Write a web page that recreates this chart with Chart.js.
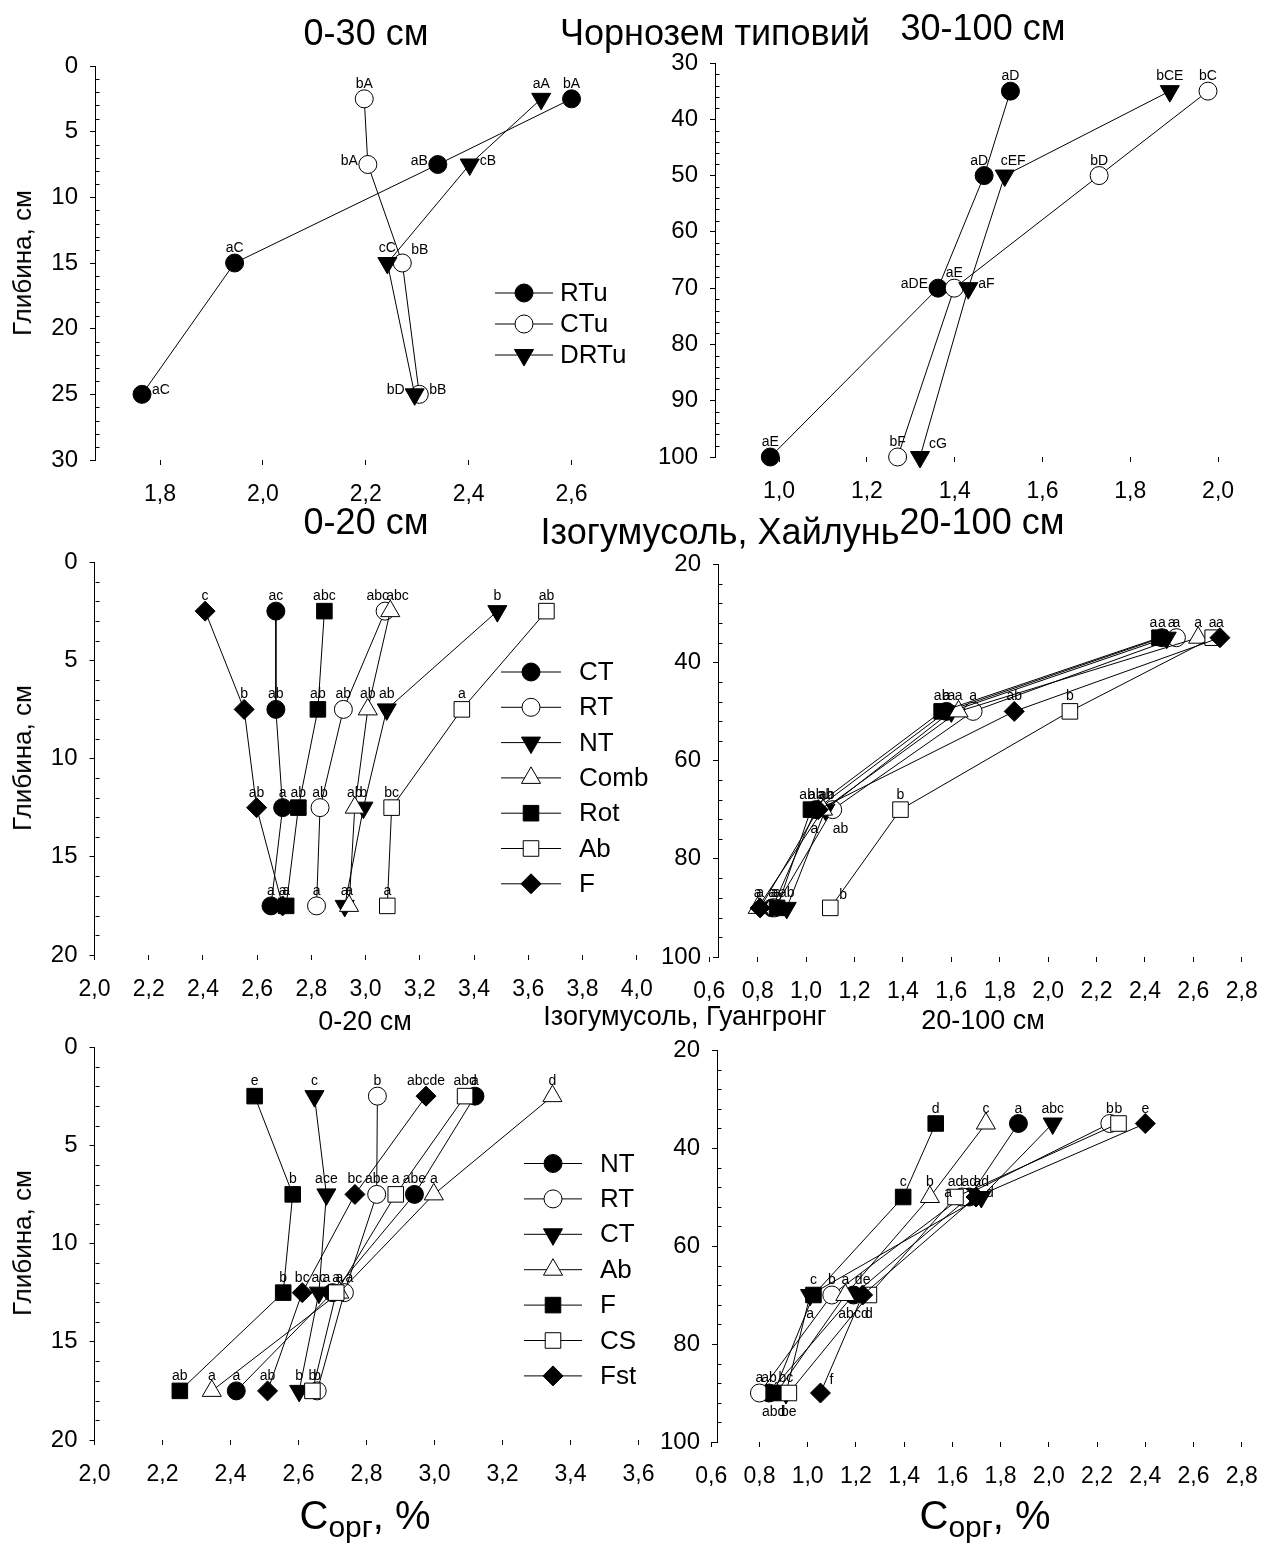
<!DOCTYPE html>
<html>
<head>
<meta charset="utf-8">
<script src="https://cdn.jsdelivr.net/npm/chart.js@4.4.0/dist/chart.umd.min.js"></script>
<style>
body { margin: 0; background: #fff; width: 1274px; height: 1544px; position: relative; overflow: hidden;
       font-family: "Liberation Sans", Arial, sans-serif; color: #000; }
canvas { position: absolute; }
.t { position: absolute; transform: translate(-50%, -50%); white-space: nowrap; line-height: 1; }
.yl { position: absolute; transform: translate(-50%, -50%) rotate(-90deg); white-space: nowrap; font-size: 26px; line-height: 1; }
</style>
</head>
<body>
<canvas id="p1"></canvas>
<canvas id="p2"></canvas>
<canvas id="p3"></canvas>
<canvas id="p4"></canvas>
<canvas id="p5"></canvas>
<canvas id="p6"></canvas>

<div class="t" style="left:366px;top:33px;font-size:36px">0-30 см</div>
<div class="t" style="left:715px;top:33px;font-size:36px">Чорнозем типовий</div>
<div class="t" style="left:983px;top:28px;font-size:36px">30-100 см</div>
<div class="t" style="left:366px;top:522px;font-size:36px">0-20 см</div>
<div class="t" style="left:720px;top:532px;font-size:36px">Ізогумусоль, Хайлунь</div>
<div class="t" style="left:982px;top:522px;font-size:36px">20-100 см</div>
<div class="t" style="left:365px;top:1021px;font-size:27px">0-20 см</div>
<div class="t" style="left:685px;top:1016px;font-size:27px">Ізогумусоль, Гуангронг</div>
<div class="t" style="left:983px;top:1020px;font-size:27px">20-100 см</div>

<div class="yl" style="left:22px;top:263px">Глибина, см</div>
<div class="yl" style="left:22px;top:758px">Глибина, см</div>
<div class="yl" style="left:22px;top:1243px">Глибина, см</div>

<div class="t" style="left:365px;top:1515px"><span style="font-size:40px">С</span><span style="font-size:30px;position:relative;top:8px">орг</span><span style="font-size:40px">, %</span></div>
<div class="t" style="left:985px;top:1515px"><span style="font-size:40px">С</span><span style="font-size:30px;position:relative;top:8px">орг</span><span style="font-size:40px">, %</span></div>

<script>
// --- Чорнозем типовий ---
const depthTop = [2.5, 7.5, 15, 25];
const chRTu = [2.60, 2.34, 1.945, 1.765];
const chCTu = [2.197, 2.204, 2.271, 2.304];
const chDRTu = [2.541, 2.402, 2.242, 2.295];
const chRTuL = ['bA', 'aB', 'aC', 'aC'];
const chCTuL = ['bA', 'bA', 'bB', 'bB'];
const chDRTuL = ['aA', 'cB', 'cC', 'bD'];

const depthSub = [35, 50, 70, 100];
const chRTu2 = [1.527, 1.467, 1.362, 0.98];
const chCTu2 = [1.977, 1.729, 1.399, 1.27];
const chDRTu2 = [1.890, 1.514, 1.431, 1.321];
const chRTu2L = ['aD', 'aD', 'aDE', 'aE'];
const chCTu2L = ['bC', 'bD', 'aE', 'bF'];
const chDRTu2L = ['bCE', 'cEF', 'aF', 'cG'];

// --- Ізогумусоль, Хайлунь ---
const depth20 = [2.5, 7.5, 12.5, 17.5];
const hlCT = [2.669, 2.669, 2.694, 2.651];
const hlRT = [3.072, 2.918, 2.832, 2.819];
const hlNT = [3.486, 3.078, 2.992, 2.923];
const hlComb = [3.091, 3.008, 2.960, 2.939];
const hlRot = [2.848, 2.824, 2.752, 2.707];
const hlAb = [3.667, 3.355, 3.096, 3.080];
const hlF = [2.408, 2.552, 2.598, 2.694];
const hlCTL = ['ac', 'ab', 'a', 'a'];
const hlRTL = ['abc', 'ab', 'ab', 'a'];
const hlNTL = ['b', 'ab', 'b', 'a'];
const hlCombL = ['abc', 'ab', 'ab', 'a'];
const hlRotL = ['abc', 'ab', 'ab', 'a'];
const hlAbL = ['ab', 'a', 'bc', 'a'];
const hlFL = ['c', 'b', 'ab', 'a'];

const depth100 = [35, 50, 70, 90];
const hdCT = [2.47, 1.58, 1.04, 0.86];
const hdRT = [2.53, 1.69, 1.11, 0.87];
const hdNT = [2.49, 1.60, 1.08, 0.92];
const hdComb = [2.62, 1.63, 1.07, 0.80];
const hdRot = [2.46, 1.56, 1.02, 0.88];
const hdAb = [2.68, 2.09, 1.39, 1.10];
const hdF = [2.71, 1.86, 1.05, 0.81];
const hdCTL = ['a', 'a', 'ab', 'a'];
const hdRTL = ['a', 'a', 'ab', 'a'];
const hdNTL = ['a', 'a', 'ab', 'ab'];
const hdCombL = ['a', 'a', 'ab', 'a'];
const hdRotL = ['a', 'ab', 'ab', 'a'];
const hdAbL = ['a', 'b', 'b', 'b'];
const hdFL = ['a', 'ab', 'a', 'a'];

// --- Ізогумусоль, Гуангронг ---
const gtNT = [3.119, 2.941, 2.700, 2.417];
const gtRT = [2.832, 2.830, 2.735, 2.655];
const gtCT = [2.647, 2.682, 2.660, 2.602];
const gtAb = [3.347, 2.998, 2.720, 2.345];
const gtF = [2.471, 2.583, 2.555, 2.251];
const gtCS = [3.090, 2.886, 2.711, 2.641];
const gtFst = [2.975, 2.766, 2.611, 2.509];
const gtNTL = ['a', 'abe', 'a', 'a'];
const gtRTL = ['b', 'abe', 'a', 'b'];
const gtCTL = ['c', 'ace', 'ac', 'b'];
const gtAbL = ['d', 'a', 'a', 'a'];
const gtFL = ['e', 'b', 'b', 'ab'];
const gtCSL = ['abd', 'a', 'a', 'b'];
const gtFstL = ['abcde', 'bc', 'bc', 'ab'];

const gdNT = [1.874, 1.67, 1.19, 0.84];
const gdRT = [2.253, 1.64, 1.10, 0.80];
const gdCT = [2.016, 1.72, 1.01, 0.91];
const gdAb = [1.739, 1.507, 1.156, 0.87];
const gdF = [1.531, 1.396, 1.024, 0.859];
const gdCS = [2.289, 1.613, 1.254, 0.922];
const gdFst = [2.40, 1.698, 1.228, 1.053];
const gdNTL = ['a', 'ad', 'abcd', 'ab'];
const gdRTL = ['b', 'a', 'b', 'a'];
const gdCTL = ['abc', 'ad', 'a', 'bc'];
const gdAbL = ['c', 'b', 'a', ''];
const gdFL = ['d', 'c', 'c', 'abd'];
const gdCSL = ['b', 'ad', 'd', 'be'];
const gdFstL = ['e', 'd', 'de', 'f'];

// tick values
const xt1 = [1.8, 2.0, 2.2, 2.4, 2.6];
const yt1 = [0, 5, 10, 15, 20, 25, 30];
const xt2 = [1.0, 1.2, 1.4, 1.6, 1.8, 2.0];
const yt2 = [30, 40, 50, 60, 70, 80, 90, 100];
const xt3 = [2.0, 2.2, 2.4, 2.6, 2.8, 3.0, 3.2, 3.4, 3.6, 3.8, 4.0];
const yt3 = [0, 5, 10, 15, 20];
const xt4 = [0.6, 0.8, 1.0, 1.2, 1.4, 1.6, 1.8, 2.0, 2.2, 2.4, 2.6, 2.8];
const yt4 = [20, 40, 60, 80, 100];
const xt5 = [2.0, 2.2, 2.4, 2.6, 2.8, 3.0, 3.2, 3.4, 3.6];

// label placement (which side of the marker)
const P = (s) => s.split(' ');
const place = {
  chRTu: P('t l t r'), chCTu: P('t l ur r'), chDRTu: P('t r t l'),
  chRTu2: P('t tl l t'), chCTu2: P('t t t t'), chDRTu2: P('t tr r ur'),
  hlRT: P('tl t t t'), hlComb: P('tr t t t'),
  hdRT: P('t t br t'), hdComb: P('t t tr t'), hdRot: P('t- t tl t'), hdAb: P('t t t ur'), hdF: P('t t bl t'),
  hdNT: P('t+ t t t'),
  gtF: P('t tl t t'), gtNT: P('t t t- t'), gtRT: P('t t t+ t'),
  gdNT: P('t t b t'), gdRT: P('t l t t'), gdCT: P('t t b t'), gdF: P('t t t b'),
  gdCS: P('t t b b'), gdFst: P('t r t ur')
};

const FONT = '"Liberation Sans", Arial, sans-serif';
const XH = 45;
const TOPPAD = 32;
const BOTPAD = 20;

const MARK = {
  fillCircle: { style: 'circle', r: 9, fill: true },
  openCircle: { style: 'circle', r: 9, fill: false },
  triDown: { style: 'triangle', r: 11, rot: 180, fill: true },
  openTri: { style: 'triangle', r: 11, rot: 0, fill: false },
  fillSquare: { style: 'rect', r: 11, fill: true },
  openSquare: { style: 'rect', r: 11, fill: false },
  diamond: { style: 'rectRot', r: 10, fill: true }
};

const PLACE = {
  t: ['center', 0, -11], 't-': ['center', -6, -11], 't+': ['center', 5, -11],
  tl: ['right', 4, -11], tr: ['left', -4, -11],
  l: ['right', -10, 0], r: ['left', 10, 0], ur: ['left', 9, -9], ul: ['right', -9, -9],
  b: ['center', 0, 23], bl: ['right', 0, 23], br: ['left', 0, 23]
};

function drawMarker(ctx, m, x, y) {
  ctx.beginPath();
  const r = m.r;
  if (m.style === 'circle') {
    ctx.arc(x, y, r, 0, Math.PI * 2);
  } else if (m.style === 'rect') {
    const s = r * Math.SQRT1_2;
    ctx.rect(x - s, y - s, 2 * s, 2 * s);
  } else if (m.style === 'rectRot') {
    ctx.moveTo(x, y - r); ctx.lineTo(x + r, y); ctx.lineTo(x, y + r); ctx.lineTo(x - r, y);
    ctx.closePath();
  } else {
    let a = (m.rot || 0) * Math.PI / 180;
    ctx.moveTo(x + Math.sin(a) * r, y - Math.cos(a) * r);
    for (let k = 0; k < 2; k++) {
      a += 2 * Math.PI / 3;
      ctx.lineTo(x + Math.sin(a) * r, y - Math.cos(a) * r);
    }
    ctx.closePath();
  }
  ctx.fillStyle = m.fill ? '#000' : '#fff';
  ctx.fill();
  ctx.strokeStyle = '#000';
  ctx.lineWidth = 1;
  ctx.stroke();
}

const pointLabels = {
  id: 'pointLabels',
  afterDatasetsDraw(chart) {
    const ctx = chart.ctx;
    ctx.save();
    ctx.font = '14px ' + FONT;
    ctx.fillStyle = '#000';
    ctx.textBaseline = 'alphabetic';
    chart.data.datasets.forEach((ds, di) => {
      chart.getDatasetMeta(di).data.forEach((pt, i) => {
        const txt = ds.ptLabels[i];
        if (!txt) return;
        const p = PLACE[ds.ptPlace ? ds.ptPlace[i] : 't'];
        ctx.textAlign = p[0];
        ctx.fillText(txt, pt.x + p[1], pt.y + p[2]);
      });
    });
    ctx.restore();
  }
};

const panelExtras = {
  id: 'panelExtras',
  afterDraw(chart, args, opts) {
    const ctx = chart.ctx;
    const ys = chart.scales.y;
    const x0 = Math.round(chart.chartArea.left) + 0.5;
    ctx.save();
    ctx.strokeStyle = '#000';
    ctx.lineWidth = 1;
    ctx.beginPath();
    opts.minor.forEach(v => {
      const py = Math.round(ys.getPixelForValue(v)) + 0.5;
      ctx.moveTo(x0, py);
      ctx.lineTo(x0 + 4, py);
    });
    ctx.stroke();

    const lg = opts.legend;
    if (lg) {
      ctx.font = '26px ' + FONT;
      ctx.textAlign = 'left';
      ctx.textBaseline = 'middle';
      lg.items.forEach((it, i) => {
        const x = lg.x - opts.box.x;
        const y = lg.y0 + i * lg.dy - opts.box.y;
        ctx.beginPath();
        ctx.moveTo(x - lg.half, y);
        ctx.lineTo(x + lg.half, y);
        ctx.strokeStyle = '#000';
        ctx.stroke();
        drawMarker(ctx, MARK[it.mark], x, y);
        ctx.fillStyle = '#000';
        ctx.fillText(it.name, lg.textX - opts.box.x, y + 1);
      });
    }
    ctx.restore();
  }
};

function minorTicks(lo, hi, step, major) {
  const out = [];
  for (let v = lo + step; v < hi; v += step) {
    if (Math.abs(v / major - Math.round(v / major)) > 1e-6) out.push(v);
  }
  return out;
}

function fmtX(v) { return v.toFixed(1).replace('.', ','); }

function makePanel(id, cx, cw, area, xr, xt, yr, yt, minor, series, legend) {
  const box = { x: cx, w: cw, y: area.t - TOPPAD, h: area.b - area.t + TOPPAD + XH + BOTPAD };
  const canvas = document.getElementById(id);
  canvas.width = box.w;
  canvas.height = Math.round(box.h);
  canvas.style.left = box.x + 'px';
  canvas.style.top = box.y + 'px';
  const right = area.l + (xr[1] - xr[0]) * xr[2];
  const yW = area.l - box.x;

  const datasets = series.map((s, i) => {
    const m = MARK[s.mark];
    return {
      label: s.name,
      data: s.xs.map((v, k) => ({ x: v, y: s.ys[k] })),
      showLine: true, borderColor: '#000', borderWidth: 1, tension: 0, fill: false, clip: false,
      pointStyle: m.style, pointRadius: m.r, pointHoverRadius: m.r, pointRotation: m.rot || 0,
      pointBackgroundColor: m.fill ? '#000' : '#fff', pointBorderColor: '#000', pointBorderWidth: 1,
      order: 20 - i,
      ptLabels: s.lbl, ptPlace: s.pos
    };
  });

  new Chart(canvas, {
    type: 'scatter',
    data: { datasets },
    options: {
      responsive: false,
      animation: false,
      events: [],
      layout: {
        padding: { left: 0, top: TOPPAD, right: box.x + box.w - right, bottom: canvas.height - TOPPAD - (area.b - area.t) - XH }
      },
      plugins: {
        legend: { display: false },
        tooltip: { enabled: false },
        panelExtras: { minor, legend, box }
      },
      scales: {
        x: {
          type: 'linear', min: xr[0], max: xr[1],
          border: { display: false },
          grid: { drawOnChartArea: false, drawTicks: true, tickLength: 5, color: '#000', lineWidth: 1 },
          ticks: { autoSkip: false, maxRotation: 0, padding: 16, color: '#000', font: { size: 23, family: FONT },
                   callback: v => fmtX(v) },
          afterBuildTicks: s => { s.ticks = xt.map(v => ({ value: v })); },
          afterFit: s => { s.height = XH; }
        },
        y: {
          type: 'linear', reverse: true, min: yr[0], max: yr[1],
          border: { display: true, color: '#000', width: 1 },
          grid: { drawOnChartArea: false, drawTicks: true, tickLength: 5, color: '#000', lineWidth: 1 },
          ticks: { padding: 12, color: '#000', font: { size: 24, family: FONT }, callback: v => String(v) },
          afterBuildTicks: s => { s.ticks = yt.map(v => ({ value: v })); },
          afterFit: s => { s.width = yW; }
        }
      }
    },
    plugins: [pointLabels, panelExtras]
  });
}

const S = (name, xs, ys, lbl, pos, mark) => ({ name, xs, ys, lbl, pos, mark });

makePanel('p1', 0, 700, { l: 95, t: 66, b: 460 }, [1.6736, 2.7, 514.4], xt1, [0, 30], yt1,
  minorTicks(0, 30, 1, 5), [
    S('RTu', chRTu, depthTop, chRTuL, place.chRTu, 'fillCircle'),
    S('CTu', chCTu, depthTop, chCTuL, place.chCTu, 'openCircle'),
    S('DRTu', chDRTu, depthTop, chDRTuL, place.chDRTu, 'triDown')
  ],
  { x: 524, half: 29, textX: 560, y0: 293, dy: 31,
    items: [{ name: 'RTu', mark: 'fillCircle' }, { name: 'CTu', mark: 'openCircle' }, { name: 'DRTu', mark: 'triDown' }] });

makePanel('p2', 640, 634, { l: 715, t: 63, b: 457 }, [0.854, 2.1, 442.5], xt2, [30, 100], yt2,
  minorTicks(30, 100, 2, 10), [
    S('RTu', chRTu2, depthSub, chRTu2L, place.chRTu2, 'fillCircle'),
    S('CTu', chCTu2, depthSub, chCTu2L, place.chCTu2, 'openCircle'),
    S('DRTu', chDRTu2, depthSub, chDRTu2L, place.chDRTu2, 'triDown')
  ], null);

makePanel('p3', 0, 700, { l: 94.5, t: 562, b: 955 }, [2.0, 4.0, 271.1], xt3, [0, 20], yt3,
  minorTicks(0, 20, 1, 5), [
    S('CT', hlCT, depth20, hlCTL, null, 'fillCircle'),
    S('RT', hlRT, depth20, hlRTL, place.hlRT, 'openCircle'),
    S('NT', hlNT, depth20, hlNTL, null, 'triDown'),
    S('Comb', hlComb, depth20, hlCombL, place.hlComb, 'openTri'),
    S('Rot', hlRot, depth20, hlRotL, null, 'fillSquare'),
    S('Ab', hlAb, depth20, hlAbL, null, 'openSquare'),
    S('F', hlF, depth20, hlFL, null, 'diamond')
  ],
  { x: 531, half: 30, textX: 579, y0: 672, dy: 35.3,
    items: [{ name: 'CT', mark: 'fillCircle' }, { name: 'RT', mark: 'openCircle' }, { name: 'NT', mark: 'triDown' },
            { name: 'Comb', mark: 'openTri' }, { name: 'Rot', mark: 'fillSquare' }, { name: 'Ab', mark: 'openSquare' },
            { name: 'F', mark: 'diamond' }] });

makePanel('p4', 640, 634, { l: 718, t: 564, b: 957 }, [0.636, 2.85, 247.2], xt4, [20, 100], yt4,
  minorTicks(20, 100, 4, 20), [
    S('CT', hdCT, depth100, hdCTL, null, 'fillCircle'),
    S('RT', hdRT, depth100, hdRTL, place.hdRT, 'openCircle'),
    S('NT', hdNT, depth100, hdNTL, place.hdNT, 'triDown'),
    S('Comb', hdComb, depth100, hdCombL, place.hdComb, 'openTri'),
    S('Rot', hdRot, depth100, hdRotL, place.hdRot, 'fillSquare'),
    S('Ab', hdAb, depth100, hdAbL, place.hdAb, 'openSquare'),
    S('F', hdF, depth100, hdFL, place.hdF, 'diamond')
  ], null);

makePanel('p5', 0, 700, { l: 94.5, t: 1047, b: 1440 }, [2.0, 3.62, 340], xt5, [0, 20], yt3,
  minorTicks(0, 20, 1, 5), [
    S('NT', gtNT, depth20, gtNTL, place.gtNT, 'fillCircle'),
    S('RT', gtRT, depth20, gtRTL, place.gtRT, 'openCircle'),
    S('CT', gtCT, depth20, gtCTL, null, 'triDown'),
    S('Ab', gtAb, depth20, gtAbL, null, 'openTri'),
    S('F', gtF, depth20, gtFL, place.gtF, 'fillSquare'),
    S('CS', gtCS, depth20, gtCSL, null, 'openSquare'),
    S('Fst', gtFst, depth20, gtFstL, null, 'diamond')
  ],
  { x: 553, half: 29, textX: 600, y0: 1163.5, dy: 35.4,
    items: [{ name: 'NT', mark: 'fillCircle' }, { name: 'RT', mark: 'openCircle' }, { name: 'CT', mark: 'triDown' },
            { name: 'Ab', mark: 'openTri' }, { name: 'F', mark: 'fillSquare' }, { name: 'CS', mark: 'openSquare' },
            { name: 'Fst', mark: 'diamond' }] });

makePanel('p6', 640, 634, { l: 717, t: 1050, b: 1442 }, [0.624, 2.85, 247.8], xt4, [20, 100], yt4,
  minorTicks(20, 100, 4, 20), [
    S('NT', gdNT, depth100, gdNTL, place.gdNT, 'fillCircle'),
    S('RT', gdRT, depth100, gdRTL, place.gdRT, 'openCircle'),
    S('CT', gdCT, depth100, gdCTL, place.gdCT, 'triDown'),
    S('Ab', gdAb, depth100, gdAbL, null, 'openTri'),
    S('F', gdF, depth100, gdFL, place.gdF, 'fillSquare'),
    S('CS', gdCS, depth100, gdCSL, place.gdCS, 'openSquare'),
    S('Fst', gdFst, depth100, gdFstL, place.gdFst, 'diamond')
  ], null);
</script>
</body>
</html>
